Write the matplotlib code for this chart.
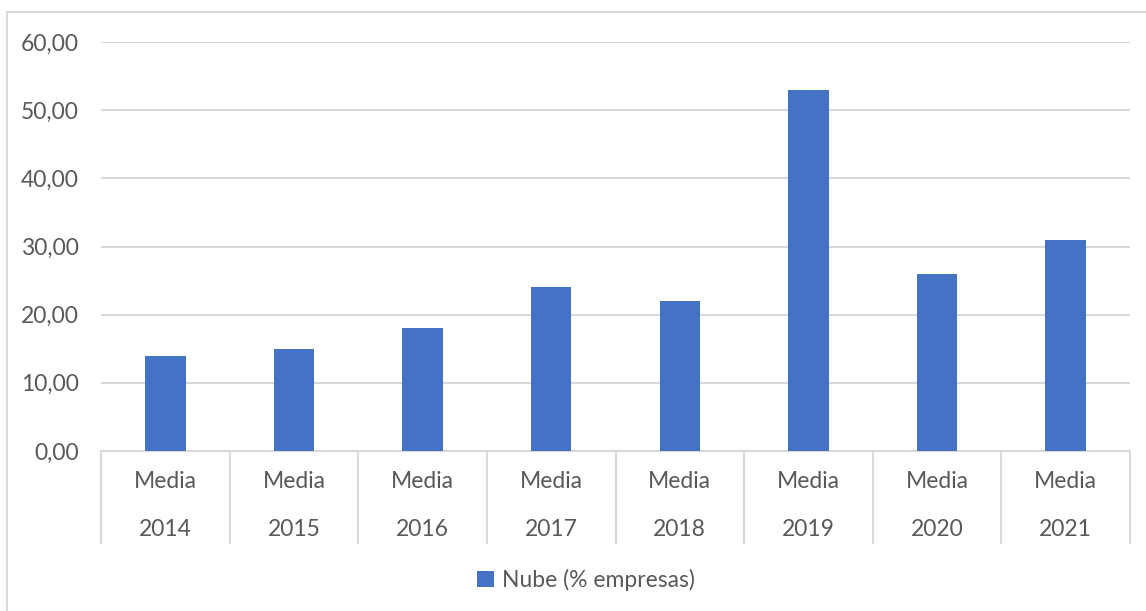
import matplotlib
matplotlib.use("Agg")
import matplotlib.pyplot as plt
from matplotlib.patches import Rectangle, Patch
from matplotlib.transforms import offset_copy

plt.rcParams['font.family'] = ['Lato', 'DejaVu Sans']

# Data
top_labels = ["Media"] * 8
years = ["2014", "2015", "2016", "2017", "2018", "2019", "2020", "2021"]
values = [14, 15, 18, 24, 22, 53, 26, 31]
series_name = "Nube (% empresas)"
yticks = [0, 10, 20, 30, 40, 50, 60]

BAR = "#4472C4"
TXT = "#595959"
GRID = "#D9D9D9"
FS = 16.5

W, H = 1146, 611
fig = plt.figure(figsize=(W / 100, H / 100), dpi=100)

# outer chart frame
fig.patches.append(Rectangle((7 / W, -0.1), 1.2, 1 - 12 / H + 0.1,
                             transform=fig.transFigure, fill=False,
                             edgecolor=GRID, linewidth=1.5, zorder=0))

ax = fig.add_axes([101 / W, 1 - 451 / H, (1130 - 101) / W, (451 - 42) / H])
x = list(range(len(values)))
ax.bar(x, values, width=0.315, color=BAR, zorder=3)

ax.set_xlim(-0.5, len(values) - 0.5)
ax.set_ylim(0, 60)
ax.set_yticks(yticks)
ax.set_yticklabels([f"{v:.2f}".replace(".", ",") for v in yticks],
                   fontsize=FS, color=TXT)
ax.tick_params(axis="y", length=0, pad=16)
ax.yaxis.grid(True, color=GRID, linewidth=1.5, zorder=0)

for s in ["top", "right", "left"]:
    ax.spines[s].set_visible(False)
ax.spines["bottom"].set_color(GRID)
ax.spines["bottom"].set_linewidth(1.5)

# category separators as long minor ticks
ax.set_xticks(x)
ax.set_xticklabels([])
ax.tick_params(axis="x", which="major", length=0)
ax.set_xticks([i - 0.5 for i in range(len(values) + 1)], minor=True)
ax.tick_params(axis="x", which="minor", length=67, width=1.5,
               color=GRID, direction="out")

# two-level category labels
tr = ax.get_xaxis_transform()
for i, (a, b) in enumerate(zip(top_labels, years)):
    ax.text(i, 0, a, transform=offset_copy(tr, fig=fig, y=-31, units="dots"),
            ha="center", va="center", fontsize=FS, color=TXT)
    ax.text(i, 0, b, transform=offset_copy(tr, fig=fig, y=-78, units="dots"),
            ha="center", va="center", fontsize=FS, color=TXT)

handle = Patch(facecolor=BAR, edgecolor="none", label=series_name)
fig.legend(handles=[handle], loc="center", bbox_to_anchor=(586 / W, 1 - 580 / H),
           frameon=False, fontsize=FS, labelcolor=TXT, handlelength=0.75,
           handleheight=0.75, handletextpad=0.35)

fig.savefig("out.png", dpi=100, facecolor="white")
